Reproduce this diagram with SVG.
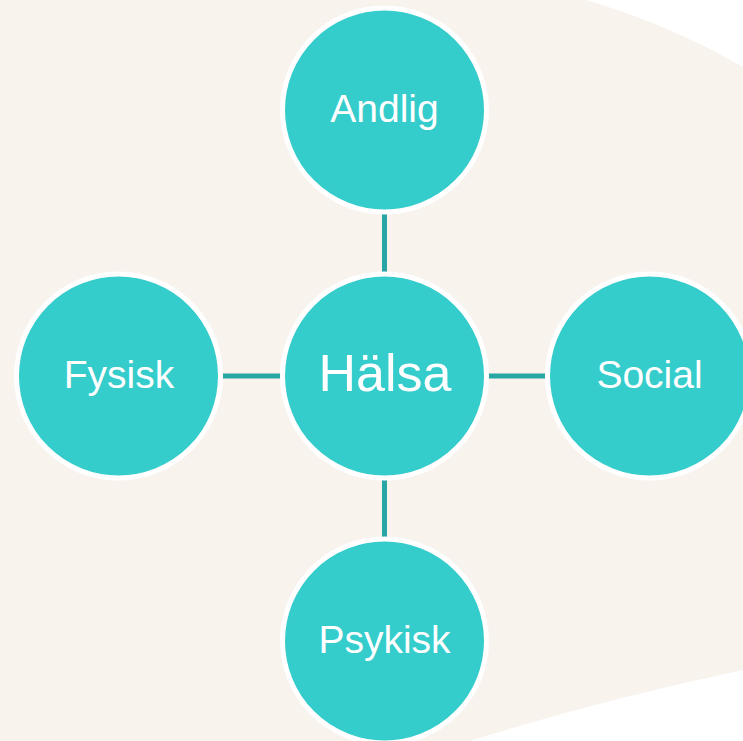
<svg xmlns="http://www.w3.org/2000/svg" width="743" height="741" viewBox="0 0 743 741">
  <style>
    .node circle { fill: #35cccc; stroke: #ffffff; stroke-width: 5; }
    .node text { fill: #ffffff; font-family: "Liberation Sans", Arial, sans-serif; font-size: 39px; text-anchor: middle; }
    .node.hub text { font-size: 52px; }
    .link { stroke: #28a5a5; stroke-width: 5; fill: none; }
  </style>
  <rect width="743" height="741" fill="#ffffff"/>
  <!-- cream backdrop with curved cut-outs at the right -->
  <path d="M0,0 L586,0 Q668,24 743,67 L743,670 Q600,700 470,741 L0,741 Z" fill="#f8f3ed"/>
  <g id="connectors">
    <line class="link" x1="384.5" y1="110" x2="384.5" y2="376"/>
    <line class="link" x1="384.5" y1="376" x2="384.5" y2="641"/>
    <line class="link" x1="118.5" y1="376" x2="384.5" y2="376"/>
    <line class="link" x1="384.5" y1="376" x2="649.5" y2="376"/>
  </g>
  <g id="node-halsa" class="node hub">
    <circle cx="384.5" cy="376" r="102"/>
    <text x="385" y="391">Hälsa</text>
  </g>
  <g id="node-andlig" class="node">
    <circle cx="384.5" cy="110" r="102"/>
    <text x="384.5" y="122">Andlig</text>
  </g>
  <g id="node-fysisk" class="node">
    <circle cx="118.5" cy="376" r="102"/>
    <text x="119" y="388">Fysisk</text>
  </g>
  <g id="node-social" class="node">
    <circle cx="649.5" cy="376" r="102"/>
    <text x="649.5" y="388">Social</text>
  </g>
  <g id="node-psykisk" class="node">
    <circle cx="384.5" cy="641" r="102"/>
    <text x="384.5" y="653">Psykisk</text>
  </g>
</svg>
